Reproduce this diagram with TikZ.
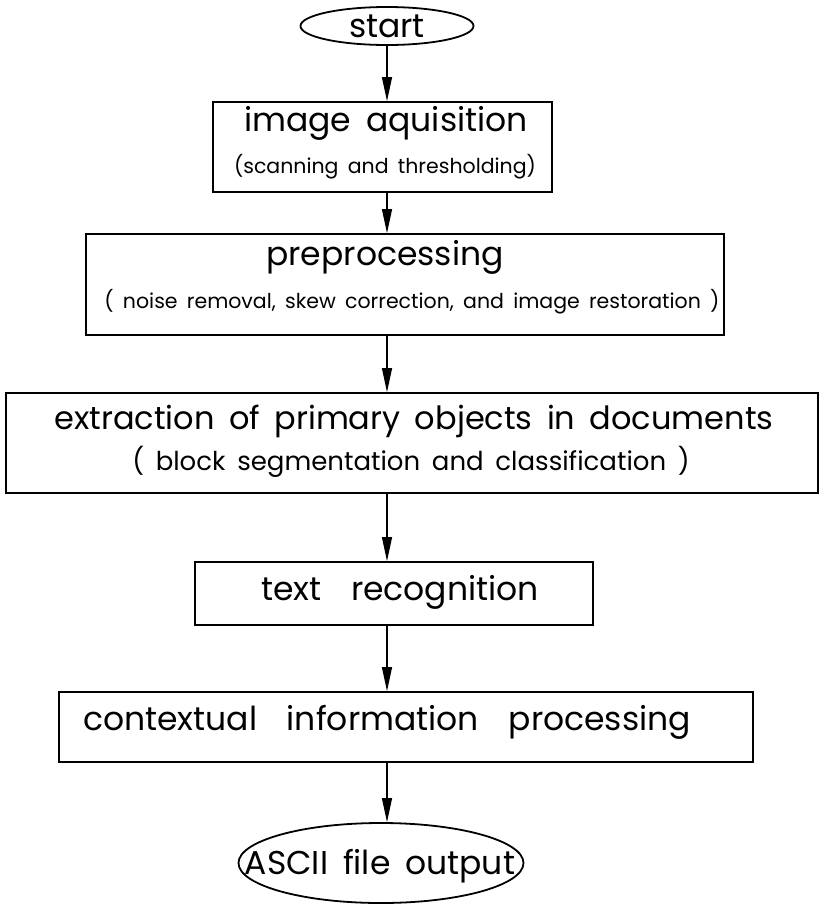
\documentclass[tikz,border=0pt]{standalone}
\usepackage{fontspec}
\setmainfont{Poppins}
\usetikzlibrary{arrows.meta,shapes.geometric}
\newcommand{\ttlfnt}{\fontsize{33}{36}\selectfont\spaceskip=0.45em\relax}
\newcommand{\ttlfntw}{\fontsize{33}{36}\selectfont\spaceskip=0.9em\relax}
\newcommand{\ttlfntn}{\fontsize{32}{36}\selectfont\spaceskip=0.45em\relax}
\newcommand{\midfnt}{\fontsize{26}{30}\selectfont\spaceskip=0.45em\relax}
\newcommand{\subfnt}{\fontsize{20.5}{24}\selectfont\spaceskip=0.45em\relax}
\begin{document}
\begin{tikzpicture}[x=1pt,y=-1pt,
  box/.style={draw,line width=1.8pt,rectangle,inner sep=0pt},
  term/.style={draw,ellipse,line width=1.8pt,inner sep=0pt},
  title/.style={inner sep=0pt,anchor=base,font=\ttlfnt},
  sub/.style={inner sep=0pt,anchor=base,font=\subfnt},
  flow/.style={line width=1.2pt,-{Triangle[length=24pt,width=10pt]}}]
\useasboundingbox (0,0) rectangle (821,906);
\coordinate (axis) at (387,0);
\node[term,minimum width=173pt,minimum height=38pt] (start) at (387,26) {};
\node[title] (ts) at (387,37) {start};
\node[box,minimum width=339pt,minimum height=90pt] (b1) at (382.5,147) {};
\node[box,minimum width=638pt,minimum height=101pt] (b2) at (405,284.5) {};
\node[box,minimum width=812pt,minimum height=100pt] (b3) at (412,443) {};
\node[box,minimum width=398pt,minimum height=63pt] (b4) at (394,593.5) {};
\node[box,minimum width=694pt,minimum height=70pt] (b5) at (406,727) {};
\node[term,minimum width=285pt,minimum height=80pt] (out) at (381,863) {};
\node[title] (to) at (380,874) {ASCII file output};
\node[title] (t1a) at (386,131) {image aquisition};
\node[sub] (t1b) at (385,173) {(scanning and thresholding)};
\node[title] (t2a) at (385,265) {preprocessing};
\node[sub] (t2b) at (412,308) {( noise removal, skew correction, and image restoration )};
\node[title,font=\ttlfntn] (t3a) at (414,429) {extraction of primary objects in documents};
\node[title,font=\midfnt] (t3b) at (411,470) {( block segmentation and classification )};
\node[title,font=\ttlfntw] (t4) at (400,600) {text recognition};
\node[title,font=\ttlfntw] (t5) at (387,730) {contextual information processing};
\draw[flow] (start.south -| axis) -- (b1.north -| axis);
\draw[flow] (b1.south -| axis) -- (b2.north -| axis);
\draw[flow] (b2.south -| axis) -- (b3.north -| axis);
\draw[flow] (b3.south -| axis) -- (b4.north -| axis);
\draw[flow] (b4.south -| axis) -- (b5.north -| axis);
\draw[flow] (b5.south -| axis) -- (out.north -| axis);
\end{tikzpicture}
\end{document}
